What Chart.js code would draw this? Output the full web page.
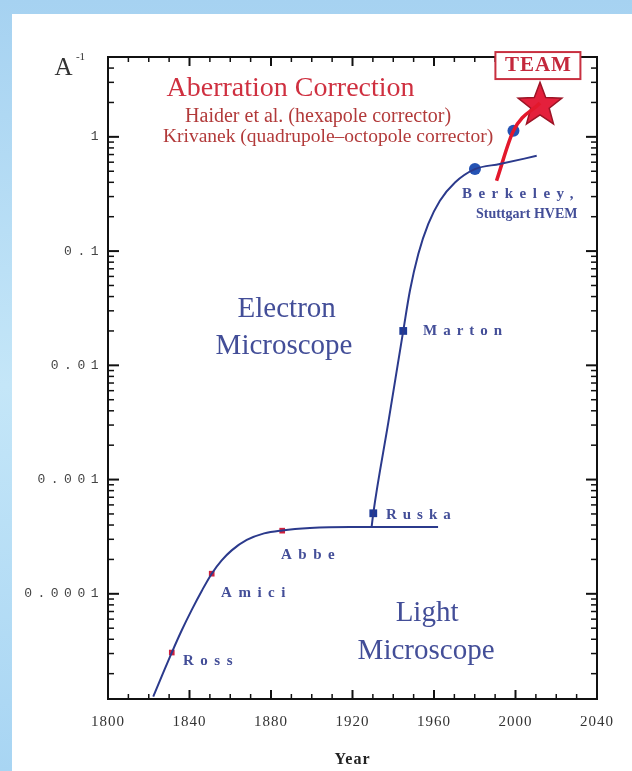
<!DOCTYPE html>
<html lang="en">
<head>
<meta charset="UTF-8">
<title>Resolution vs Year</title>
<script src="https://cdn.jsdelivr.net/npm/chart.js"></script>
<style>
  html, body { margin: 0; padding: 0; }
  body {
    width: 632px; height: 771px; overflow: hidden; position: relative;
    background: linear-gradient(to bottom, #a6d2f1 0%, #c4e6f8 50%, #a8d5f3 100%);
  }
  #panel { position: absolute; left: 12px; top: 14px; width: 620px; height: 757px; background: #fff; }
  canvas { display: block; }
</style>
</head>
<body>
<div id="panel"><canvas id="chart" width="620" height="757"></canvas></div>
<script>
// axes
const yMin = 1.2e-5, yMax = 5;
const xTickValues = [1800, 1840, 1880, 1920, 1960, 2000, 2040];
const xTickLabels = ['1800', '1840', '1880', '1920', '1960', '2000', '2040'];
const yTickValues = [1e-4, 1e-3, 1e-2, 0.1, 1];
const yTickLabels = ['0.0001', '0.001', '0.01', '0.1', '1'];
const xMinorStep = 10;
const yMinorMult = [2, 3, 4, 5, 6, 7, 8, 9];

// light microscope curve
const lightYears  = [1822.2, 1826.5, 1831.3, 1836.2, 1841.1, 1846.0, 1850.9, 1855.8, 1860.7, 1868.1, 1876.6, 1885.4, 1899.1, 1918.8, 1962.0];
const lightValues = [1.26e-5, 1.92e-5, 3.06e-5, 4.8e-5, 7.24e-5, 1.06e-4, 1.50e-4, 1.96e-4, 2.40e-4, 2.96e-4, 3.38e-4, 3.59e-4, 3.77e-4, 3.85e-4, 3.85e-4];
const lightNames  = ['Ross', 'Amici', 'Abbe'];
const lightMarkYears  = [1831.3, 1850.9, 1885.5];
const lightMarkValues = [3.06e-5, 1.50e-4, 3.57e-4];

// electron microscope curve
const electronYears  = [1929.4, 1930.2, 1937.6, 1944.9, 1948.2, 1952.3, 1957.2, 1962.9, 1970.3, 1980.1, 1992.3, 2010.4];
const electronValues = [3.87e-4, 5.07e-4, 3.18e-3, 0.020, 0.0452, 0.0945, 0.173, 0.276, 0.399, 0.522, 0.578, 0.682];
const electronNames  = ['Ruska', 'Marton'];
const electronMarkYears  = [1930.2, 1944.9];
const electronMarkValues = [5.07e-4, 0.020];
const circleYears  = [1980.1, 1999.0];
const circleValues = [0.522, 1.13];

// aberration corrected
const correctedYears  = [1990.7, 1999.0, 2012.0];
const correctedValues = [0.413, 1.13, 1.98];
const teamYears  = [2012.0];
const teamValues = [1.98];

const BLUE = '#2b3a8c';
const TEXT_BLUE = '#434e98';
const serif = 'Liberation Serif';
const pts = (xs, ys) => xs.map((x, i) => ({ x: x, y: ys[i] }));

// text notes, placed in data coordinates
const notes = [
  { text: 'Aberration Correction', year: 1889.6, value: 2.63, font: '28px ' + serif, color: '#cf3040' },
  { text: 'Haider et al. (hexapole corrector)', year: 1903.1, value: 1.50, font: '20px ' + serif, color: '#b23a3a' },
  { text: 'Krivanek (quadrupole\u2013octopole corrector)', year: 1908.0, value: 1.0, font: '19.5px ' + serif, color: '#b23a3a' },
  { text: 'Berkeley,', year: 1973.7, value: 0.318, font: 'bold 15px ' + serif, color: TEXT_BLUE, align: 'left', spacing: '6.5px' },
  { text: 'Stuttgart HVEM', year: 1980.6, value: 0.208, font: 'bold 14px ' + serif, color: TEXT_BLUE, align: 'left' },
  { text: 'Electron', year: 1887.7, value: 0.0308, font: '29px ' + serif, color: TEXT_BLUE },
  { text: 'Microscope', year: 1886.4, value: 0.01466, font: '29px ' + serif, color: TEXT_BLUE },
  { text: 'Marton', year: 1954.6, value: 0.0198, font: 'bold 15px ' + serif, color: TEXT_BLUE, align: 'left', spacing: '6px' },
  { text: 'Ruska', year: 1936.4, value: 4.9e-4, font: 'bold 15px ' + serif, color: TEXT_BLUE, align: 'left', spacing: '6px' },
  { text: 'Abbe', year: 1884.9, value: 2.19e-4, font: 'bold 15px ' + serif, color: TEXT_BLUE, align: 'left', spacing: '6.5px' },
  { text: 'Amici', year: 1855.5, value: 1.02e-4, font: 'bold 15px ' + serif, color: TEXT_BLUE, align: 'left', spacing: '6.5px' },
  { text: 'Ross', year: 1836.8, value: 2.6e-5, font: 'bold 15px ' + serif, color: TEXT_BLUE, align: 'left', spacing: '6.5px' },
  { text: 'Light', year: 1956.6, value: 6.68e-5, font: '29px ' + serif, color: TEXT_BLUE },
  { text: 'Microscope', year: 1956.1, value: 3.11e-5, font: '29px ' + serif, color: TEXT_BLUE },
  { text: 'A', year: 1778.2, value: 4.0, font: '25px ' + serif, color: '#333' },
  { text: '-1', year: 1786.5, value: 5.0, font: '11px ' + serif, color: '#333' }
];
const teamLabel = { text: 'TEAM', year: 2011.0, value: 4.25 };

function makeStar(r, fill, stroke) {
  const c = document.createElement('canvas');
  c.width = c.height = Math.ceil(2 * r + 4);
  const g = c.getContext('2d');
  const cx = c.width / 2, cy = c.height / 2 + r * 0.1;
  g.beginPath();
  for (let i = 0; i < 10; i++) {
    const a = -Math.PI / 2 + i * Math.PI / 5;
    const rr = i % 2 ? r * 0.42 : r;
    g.lineTo(cx + rr * Math.cos(a), cy + rr * Math.sin(a));
  }
  g.closePath();
  g.fillStyle = fill; g.fill();
  g.strokeStyle = stroke; g.lineWidth = 1.5; g.stroke();
  return c;
}

// letter spacing: y labels before datasets, x labels after
const spacingPlugin = {
  id: 'spacing',
  beforeDraw(chart) { chart.ctx.letterSpacing = '5.5px'; },
  beforeDatasetsDraw(chart) { chart.ctx.letterSpacing = '0px'; },
  afterDatasetsDraw(chart) { chart.ctx.letterSpacing = '1px'; },
  afterDraw(chart) {
    const { ctx, chartArea: a, scales: { x, y } } = chart;
    ctx.letterSpacing = '0px';
    ctx.save();
    ctx.strokeStyle = '#111';
    ctx.lineWidth = 2;
    ctx.strokeRect(a.left, a.top, a.right - a.left, a.bottom - a.top);
    const tick = (x1, y1, x2, y2, w) => {
      ctx.lineWidth = w;
      ctx.beginPath(); ctx.moveTo(x1, y1); ctx.lineTo(x2, y2); ctx.stroke();
    };
    for (let yr = x.min + xMinorStep; yr < x.max; yr += xMinorStep) {
      const px = x.getPixelForValue(yr);
      const major = xTickValues.includes(yr);
      const len = major ? 9 : 5;
      tick(px, a.bottom, px, a.bottom - len, major ? 2 : 1.5);
      tick(px, a.top, px, a.top + len, major ? 2 : 1.5);
    }
    for (let e = -5; e <= 0; e++) {
      [1].concat(yMinorMult).forEach(m => {
        const v = m * Math.pow(10, e);
        if (v <= y.min || v >= y.max) return;
        const py = y.getPixelForValue(v);
        const major = m === 1;
        const len = major ? 11 : 6;
        tick(a.left, py, a.left + len, py, major ? 2 : 1.5);
        tick(a.right, py, a.right - len, py, major ? 2 : 1.5);
      });
    }
    ctx.restore();

    // TEAM box
    ctx.save();
    ctx.font = 'bold 21px ' + serif;
    ctx.letterSpacing = '1px';
    const tx = x.getPixelForValue(teamLabel.year), ty = y.getPixelForValue(teamLabel.value);
    const tw = ctx.measureText(teamLabel.text).width;
    ctx.fillStyle = '#fff';
    ctx.fillRect(tx - tw / 2 - 9, ty - 13, tw + 18, 27);
    ctx.strokeStyle = '#c83040';
    ctx.lineWidth = 2;
    ctx.strokeRect(tx - tw / 2 - 9, ty - 13, tw + 18, 27);
    ctx.fillStyle = '#c4283c';
    ctx.textAlign = 'center';
    ctx.textBaseline = 'middle';
    ctx.fillText(teamLabel.text, tx + 0.5, ty + 1);
    ctx.restore();

    notes.forEach(n => {
      ctx.save();
      ctx.font = n.font;
      ctx.fillStyle = n.color;
      ctx.letterSpacing = n.spacing || '0px';
      ctx.textAlign = n.align || 'center';
      ctx.textBaseline = 'middle';
      ctx.fillText(n.text, x.getPixelForValue(n.year), y.getPixelForValue(n.value));
      ctx.restore();
    });
  }
};

new Chart(document.getElementById('chart'), {
  type: 'scatter',
  data: {
    datasets: [
      {
        data: pts(lightYears, lightValues), showLine: true, borderColor: BLUE, borderWidth: 2,
        pointRadius: 0, cubicInterpolationMode: 'monotone'
      },
      {
        data: pts(electronYears, electronValues), showLine: true, borderColor: BLUE, borderWidth: 2,
        pointRadius: 0, cubicInterpolationMode: 'monotone'
      },
      {
        data: pts(correctedYears, correctedValues), showLine: true, borderColor: '#e3182c', borderWidth: 3.5,
        pointRadius: 0, cubicInterpolationMode: 'monotone'
      },
      {
        data: pts(lightMarkYears, lightMarkValues), pointStyle: 'rect', pointRadius: 4,
        backgroundColor: '#d0203c', borderWidth: 0
      },
      {
        data: pts(electronMarkYears, electronMarkValues), pointStyle: 'rect', pointRadius: 5.5,
        backgroundColor: '#1e3a98', borderWidth: 0
      },
      {
        data: pts(circleYears, circleValues), pointStyle: 'circle', pointRadius: 6,
        backgroundColor: '#2553b4', borderWidth: 0
      },
      {
        data: pts(teamYears, teamValues), pointStyle: makeStar(23, '#e4203c', '#9c1426'), pointRadius: 23
      }
    ]
  },
  options: {
    responsive: false,
    animation: false,
    layout: { padding: { left: 0, right: 35, top: 43, bottom: 0 } },
    plugins: { legend: { display: false }, tooltip: { enabled: false } },
    scales: {
      x: {
        type: 'linear', min: 1800, max: 2040,
        afterBuildTicks: s => { s.ticks = xTickValues.map(v => ({ value: v })); },
        afterFit: s => { s.height = 72; },
        grid: { display: false, drawTicks: false, z: 1 },
        border: { display: false },
        ticks: {
          z: 1, autoSkip: false, maxRotation: 0, padding: 14, color: '#333',
          font: { family: serif, size: 15 },
          callback: (v, i) => xTickLabels[i]
        },
        title: {
          display: true, text: 'Year', color: '#222',
          font: { family: serif, size: 16, weight: 'bold' },
          padding: { top: 0, bottom: 2 }
        }
      },
      y: {
        type: 'logarithmic', min: yMin, max: yMax,
        afterBuildTicks: s => { s.ticks = yTickValues.map(v => ({ value: v })); },
        afterFit: s => { s.width = 96; },
        grid: { display: false, drawTicks: false },
        border: { display: false },
        ticks: {
          autoSkip: false, padding: 4, color: '#444',
          font: { family: 'Liberation Mono', size: 13 },
          callback: (v, i) => yTickLabels[i]
        }
      }
    }
  },
  plugins: [spacingPlugin]
});
</script>
</body>
</html>
